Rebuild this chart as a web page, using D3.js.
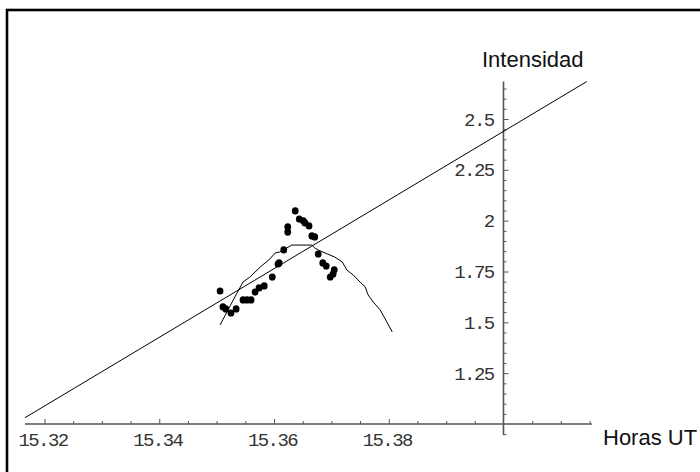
<!DOCTYPE html>
<html><head><meta charset="utf-8">
<script src="https://cdn.jsdelivr.net/npm/d3@7"></script>
<style>
html,body{margin:0;padding:0;background:#fff;}
svg{display:block;}
.tick text{font-family:"Liberation Mono",monospace;font-size:19px;letter-spacing:-1.6px;fill:#333;}
</style></head>
<body>
<svg id="chart" width="700" height="472"></svg>
<script>
// Measured points (Horas UT, Intensidad)
const dotX = [15.3506,15.3511,15.3516,15.3525,15.3534,15.3546,15.3553,15.3560,15.3567,15.3574,15.3583,15.3597,15.3607,15.3609,15.3617,15.3624,15.3624,15.3637,15.3644,15.3651,15.3654,15.3661,15.3666,15.3671,15.3677,15.3685,15.3691,15.3698,15.3703,15.3705];
const dotY = [1.654,1.576,1.566,1.546,1.566,1.610,1.610,1.610,1.649,1.669,1.679,1.723,1.787,1.792,1.856,1.969,1.944,2.048,2.008,1.999,1.989,1.974,1.925,1.920,1.836,1.792,1.777,1.723,1.738,1.758];
// Model curve
const curveX = [15.3506,15.3529,15.3546,15.3558,15.3576,15.3593,15.3602,15.3610,15.3631,15.3666,15.3671,15.3677,15.3689,15.3706,15.3719,15.3727,15.3738,15.3750,15.3759,15.3764,15.3773,15.3785,15.3793,15.3806];
const curveY = [1.487,1.610,1.698,1.723,1.772,1.812,1.841,1.846,1.880,1.880,1.866,1.856,1.841,1.821,1.797,1.757,1.733,1.698,1.674,1.635,1.600,1.561,1.521,1.453];
// Straight fit line (end points)
const fitX = [15.3166, 15.4145];
const fitY = [1.031, 2.684];
// Axis ranges and ticks
const xRange = [15.3166, 15.4154];
const yRange = [0.946, 2.684];
const xMajor = [15.32, 15.34, 15.36, 15.38];
const xMinor = [15.325,15.33,15.335,15.345,15.35,15.355,15.365,15.37,15.375,15.385,15.39,15.395,15.405,15.41,15.415];
const yMajor = [1.25, 1.5, 1.75, 2, 2.25, 2.5];
const yMinor = [0.95,1.05,1.1,1.15,1.2,1.3,1.35,1.4,1.45,1.55,1.6,1.65,1.7,1.8,1.85,1.9,1.95,2.05,2.1,2.15,2.2,2.3,2.35,2.4,2.45,2.55,2.6,2.65];
const xOrigin = 15.40, yOrigin = 1.0;

const svg = d3.select("#chart");
const x = d3.scaleLinear().domain([15.32, 15.40]).range([44.5, 503.5]);
const y = d3.scaleLinear().domain([1, 2.5]).range([424, 119]);

// frame
svg.append("rect").attr("x",7).attr("y",10).attr("width",720).attr("height",500)
  .attr("fill","none").attr("stroke","#000").attr("stroke-width",2.6);

const axisCol = "#555";
// x axis line
svg.append("line").attr("x1",x(xRange[0])).attr("x2",x(xRange[1]))
  .attr("y1",y(yOrigin)).attr("y2",y(yOrigin)).attr("stroke",axisCol).attr("stroke-width",1.4);
// y axis line
svg.append("line").attr("x1",x(xOrigin)).attr("x2",x(xOrigin))
  .attr("y1",y(yRange[0])).attr("y2",y(yRange[1])).attr("stroke",axisCol).attr("stroke-width",1.6);

const fmtX = d => d.toFixed(2);
const fmtY = d => String(+d.toFixed(2));

const gxMaj = svg.append("g").attr("transform",`translate(-2,${y(yOrigin)})`)
  .call(d3.axisBottom(x).tickValues(xMajor).tickFormat(fmtX).tickSizeInner(-5).tickSizeOuter(0).tickPadding(9));
gxMaj.select(".domain").remove();
gxMaj.selectAll("line").attr("stroke",axisCol).attr("transform","translate(2,0)");
const gxMin = svg.append("g").attr("transform",`translate(0,${y(yOrigin)})`)
  .call(d3.axisBottom(x).tickValues(xMinor).tickFormat("").tickSizeInner(-3).tickSizeOuter(0));
gxMin.select(".domain").remove();
gxMin.selectAll("line").attr("stroke",axisCol);

const gyMaj = svg.append("g").attr("transform",`translate(${x(xOrigin)},0)`)
  .call(d3.axisLeft(y).tickValues(yMajor).tickFormat(fmtY).tickSizeInner(-5).tickSizeOuter(0).tickPadding(10));
gyMaj.select(".domain").remove();
gyMaj.selectAll("line").attr("stroke",axisCol);
const gyMin = svg.append("g").attr("transform",`translate(${x(xOrigin)},0)`)
  .call(d3.axisLeft(y).tickValues(yMinor).tickFormat("").tickSizeInner(-3).tickSizeOuter(0));
gyMin.select(".domain").remove();
gyMin.selectAll("line").attr("stroke",axisCol);

// fit line
svg.append("line").attr("x1",x(fitX[0])).attr("y1",y(fitY[0]))
  .attr("x2",x(fitX[1])).attr("y2",y(fitY[1])).attr("stroke","#000").attr("stroke-width",1);

// curve
const curve = d3.line().x(d=>x(d[0])).y(d=>y(d[1]));
svg.append("path").datum(curveX.map((v,i)=>[v,curveY[i]]))
  .attr("d",curve).attr("fill","none").attr("stroke","#000").attr("stroke-width",1);

// dots
svg.append("g").selectAll("ellipse").data(dotX.map((v,i)=>[v,dotY[i]])).join("ellipse")
  .attr("cx",d=>x(d[0])).attr("cy",d=>y(d[1])).attr("rx",3.4).attr("ry",3.6).attr("fill","#000");

// axis titles
svg.append("text").attr("x",482).attr("y",67).text("Intensidad")
  .attr("font-family","Liberation Sans, Arial, sans-serif").attr("font-size",22).attr("fill","#111");
svg.append("text").attr("x",603).attr("y",445).text("Horas UT")
  .attr("font-family","Liberation Sans, Arial, sans-serif").attr("font-size",22).attr("fill","#111");
</script>
</body></html>
